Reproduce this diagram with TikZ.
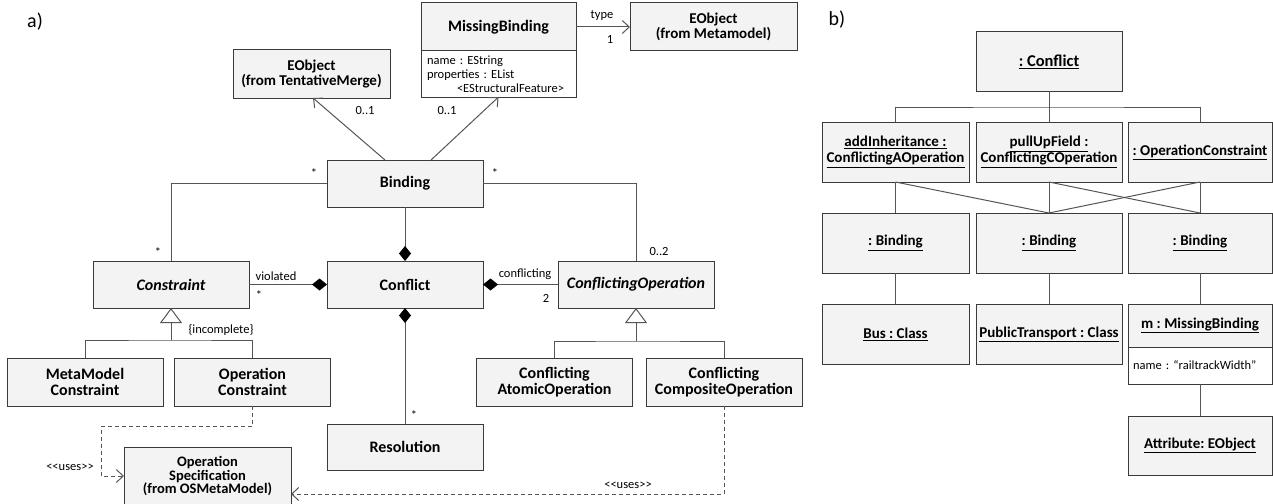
\documentclass[tikz,border=0pt]{standalone}
\usepackage{fontspec}
\setmainfont{Carlito}
\usepackage{tikz}
\usetikzlibrary{arrows.meta, positioning, calc}
\frenchspacing
\definecolor{boxfill}{HTML}{F2F3F2}
\definecolor{boxedge}{HTML}{3A3A3A}
\definecolor{wire}{HTML}{555555}
\tikzstyle{cls} = [rectangle, draw=boxedge, line width=1pt, fill=boxfill, align=center, inner sep=2pt, outer sep=0pt, font=\fontsize{16}{16}\selectfont\bfseries]
\tikzstyle{clsbox} = [cls, minimum width=156pt, minimum height=47pt]
\tikzstyle{attrs} = [rectangle, draw=boxedge, line width=1pt, fill=white, align=left, inner xsep=6pt, outer sep=0pt, font=\fontsize{12.5}{14}\selectfont]
\tikzstyle{obj} = [cls, minimum width=146pt, minimum height=60pt, font=\fontsize{15}{16}\selectfont\bfseries]
\tikzstyle{lbl} = [font=\fontsize{12.5}{13}\selectfont, inner sep=0pt]
\tikzstyle{tag} = [font=\fontsize{20}{20}\selectfont, inner sep=0pt]
\tikzstyle{wire} = [draw=wire, line width=1pt]
\tikzstyle{assoc} = [wire, -{Straight Barb[length=7pt,width=13pt]}]
\tikzstyle{comp} = [wire, -{Diamond[length=15pt,width=12pt,color=black]}]
\tikzstyle{gen} = [wire, -{Triangle[open,length=15pt,width=22pt,fill=white]}]
\tikzstyle{dep} = [wire, dash pattern=on 4pt off 3pt, -{Straight Barb[length=7pt,width=13pt]}]
\newcommand{\usesmark}{<\kern0pt<uses>\kern0pt>}

\begin{document}
\begin{tikzpicture}[x=1pt, y=-1pt]
    \useasboundingbox (0,0) rectangle (1273,503);

    % Panel tags
    \node (tagA) [tag] at (35,22) {a)};
    \node (tagB) [tag] at (837,20) {b)};

    % Nodes - metamodel (a)
    \node (eobjTM) [cls, minimum width=157pt, minimum height=48pt, font=\fontsize{15}{15}\selectfont\bfseries] at (311.5,74) {EObject\\(from TentativeMerge)};
    \node (missing) [cls, minimum width=155pt, minimum height=48pt] at (498.5,27) {MissingBinding};
    \node (missingAttr) [attrs, text width=143pt, minimum height=46pt, below=0pt of missing] {name : EString\\properties : EList\\\hspace*{30pt}\mbox{<EStructuralFeature>}};
    \node (eobjMM) [cls, minimum width=167pt, minimum height=48pt, font=\fontsize{15}{15}\selectfont\bfseries] at (713.5,27) {EObject\\(from Metamodel)};
    \node (binding) [clsbox] at (405,183.5) {Binding};
    \node (conflict) [clsbox] at (405,284.5) {Conflict};
    \node (constraint) [clsbox] at (171,284.5) {\itshape Constraint};
    \node (confOp) [clsbox] at (636,284.5) {\itshape ConflictingOperation};
    \node (resolution) [clsbox, minimum height=46pt] at (405,447) {Resolution};
    \node (mmCons) [clsbox, minimum height=48pt] at (85,382) {MetaModel\\Constraint};
    \node (opCons) [clsbox, minimum height=48pt] at (252.5,382) {Operation\\Constraint};
    \node (atomic) [clsbox, minimum height=48pt] at (554.5,382) {Conflicting\\AtomicOperation};
    \node (composite) [clsbox, minimum height=48pt] at (724,382) {Conflicting\\CompositeOperation};
    \node (opSpec) [cls, minimum width=167pt, minimum height=58pt, font=\fontsize{14.5}{13.5}\selectfont\bfseries] at (207.5,476) {Operation\\Specification\\(from OSMetaModel)};

    % Associations
    \draw [assoc] ([xshift=-20pt]binding.north) -- ([xshift=1.5pt]eobjTM.south);
    \draw [assoc] ([xshift=26pt]binding.north) -- (missingAttr.south);
    \draw [assoc] (missing.east) -- (eobjMM.west);
    \draw [wire] (binding.west) -| (constraint.north);
    \draw [wire] (binding.east) -| (confOp.north);

    % Compositions
    \draw [comp] (binding) -- (conflict);
    \draw [comp] (constraint) -- (conflict);
    \draw [comp] (confOp) -- (conflict);
    \draw [comp] (resolution) -- (conflict);

    % Generalizations
    \coordinate (genCons) at (171,340);
    \draw [wire] (mmCons.north) |- (genCons) -| (opCons.north);
    \draw [gen] (genCons) -- (constraint.south);
    \coordinate (genOp) at (636,341);
    \draw [wire] (atomic.north) |- (genOp) -| (composite.north);
    \draw [gen] (genOp) -- (confOp.south);

    % Dependencies
    \coordinate (usesBend) at (101,426);
    \draw [dep] (opCons.south) |- (usesBend) |- (opSpec.west);
    \draw [dep] (composite.south) |- ([yshift=-18pt]opSpec.east);

    % Labels
    \node (mTM) [lbl] at (365,110) {0..1};
    \node (mMB) [lbl] at (447,110) {0..1};
    \node (lType) [lbl] at (602,16) {type};
    \node (mType) [lbl] at (610,39) {1};
    \node (mBindL) [lbl] at (314,173) {*};
    \node (mCons) [lbl] at (158,252) {*};
    \node (mBindR) [lbl] at (495,173) {*};
    \node (mOp) [lbl] at (659,251) {0..2};
    \node (lViol) [lbl] at (276,276) {violated};
    \node (mViol) [lbl] at (259,295) {*};
    \node (lConf) [lbl] at (525,274) {conflicting};
    \node (mConf) [lbl] at (546,298) {2};
    \node (mRes) [lbl] at (414,415) {*};
    \node (lIncompl) [lbl] at (221,330) {\{incomplete\}};
    \node (lUsesA) [lbl] at (70,467) {\usesmark};
    \node (lUsesB) [lbl] at (628,485) {\usesmark};

    % Nodes - object diagram (b)
    \node (oConflict) [obj, minimum height=59pt, font=\fontsize{16.5}{16}\selectfont\bfseries] at (1049,61.5) {\underline{: Conflict}};
    \node (opA) [obj, minimum width=147pt] at (895.5,152) {\underline{addInheritance :}\\\underline{ConflictingAOperation}};
    \node (opC) [obj] at (1049,152) {\underline{pullUpField :}\\\underline{ConflictingCOperation}};
    \node (opK) [obj, minimum width=144pt] at (1200,152) {\underline{: OperationConstraint}};
    \node (bindA) [obj, minimum width=147pt] at (895.5,243) {\underline{: Binding}};
    \node (bindC) [obj] at (1049,243) {\underline{: Binding}};
    \node (bindK) [obj, minimum width=144pt] at (1200,243) {\underline{: Binding}};
    \node (busCls) [obj, minimum width=147pt] at (895.5,334) {\underline{Bus : Class}};
    \node (ptCls) [obj] at (1049,334) {\underline{PublicTransport : Class}};
    \node (mbObj) [obj, minimum width=144pt, minimum height=43pt] at (1200,325.5) {\underline{m : MissingBinding}};
    \node (mbAttr) [attrs, inner xsep=5pt, text width=134pt, minimum height=37pt, below=0pt of mbObj] {name : “railtrackWidth”};
    \node (attrObj) [obj, minimum width=144pt, minimum height=59pt] at (1200,445.5) {\underline{Attribute: EObject}};

    % Links
    \coordinate (objJoin) at (1049,107);
    \draw [wire] (oConflict) -- (opC);
    \draw [wire] (opA.north) |- (objJoin) -| (opK.north);
    \draw [wire] (opA) -- (bindA);
    \draw [wire] (opA.south) -- (bindC.north);
    \draw [wire] (opC) -- (bindC);
    \draw [wire] (opC.south) -- (bindK.north);
    \draw [wire] (opK) -- (bindK);
    \draw [wire] (opK.south) -- (bindC.north);
    \draw [wire] (bindA) -- (busCls);
    \draw [wire] (bindC) -- (ptCls);
    \draw [wire] (bindK) -- (mbObj);
    \draw [wire] (mbAttr) -- (attrObj);

\end{tikzpicture}
\end{document}
